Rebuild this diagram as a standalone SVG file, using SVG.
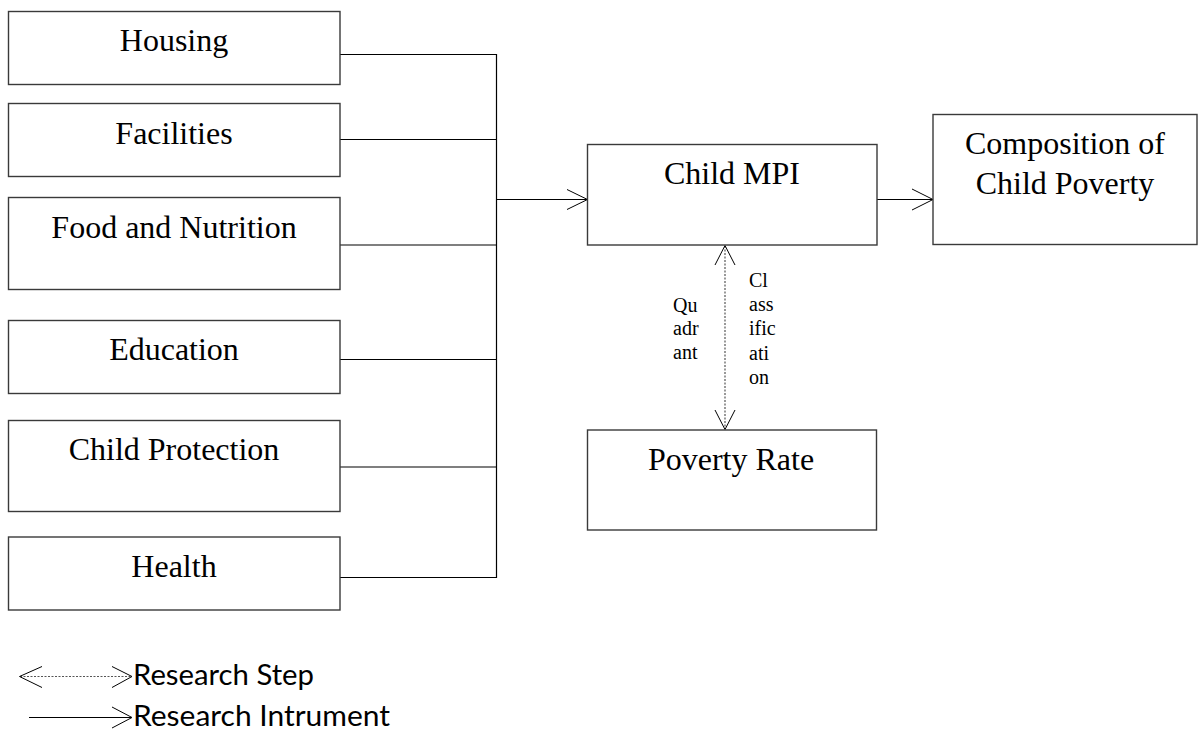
<svg xmlns="http://www.w3.org/2000/svg" width="1199" height="733" viewBox="0 0 1199 733">
<style>
.box{fill:#fff;stroke:#3a3a3a;stroke-width:1.4}
.t{font-family:"Liberation Serif","Times New Roman",serif;font-size:32px;fill:#000;text-anchor:middle}
.s{font-family:"Liberation Serif","Times New Roman",serif;font-size:20px;fill:#000}
.ln{fill:none;stroke:#000;stroke-width:1.2}
.ah{fill:none;stroke:#000;stroke-width:1}
.dash{fill:none;stroke:#555;stroke-width:1.2;stroke-dasharray:2 1.5}
.lg{font-family:Lato,"Open Sans",sans-serif;font-size:29px;fill:#000}
</style>
<rect width="1199" height="733" fill="#fff"/>
<g id="connectors">
<path class="ln" d="M340 54.5H496.5M340 139.5H496.5M340 245H496.5M340 359.5H496.5M340 467H496.5M340 577.5H496.5M496.5 54V578"/>
<path class="ln" d="M496.5 199.5H587"/>
<path class="ah" d="M567 189.5L587.5 199.5L567 209.5"/>
<path class="ln" d="M877 199.5H933"/>
<path class="ah" d="M912 189L933 199.5L912 210"/>
<path class="dash" d="M725 246V429"/>
<path class="ah" d="M715 265L725 245.5L735 265M715 410L725 429.5L735 410"/>
</g>
<g id="n-housing"><rect class="box" x="8.5" y="11.5" width="331.5" height="73"/><text class="t" x="174" y="51">Housing</text></g>
<g id="n-facilities"><rect class="box" x="8.5" y="103.5" width="331.5" height="73"/><text class="t" x="174" y="144">Facilities</text></g>
<g id="n-food"><rect class="box" x="8.5" y="197.5" width="331.5" height="92"/><text class="t" x="174" y="237.5">Food and Nutrition</text></g>
<g id="n-education"><rect class="box" x="8.5" y="320.5" width="331.5" height="73"/><text class="t" x="174" y="360">Education</text></g>
<g id="n-protection"><rect class="box" x="8.5" y="420.5" width="331.5" height="91"/><text class="t" x="174" y="460">Child Protection</text></g>
<g id="n-health"><rect class="box" x="8.5" y="537" width="331.5" height="73"/><text class="t" x="174" y="576.5">Health</text></g>
<g id="n-mpi"><rect class="box" x="587.5" y="144.5" width="289.5" height="100.5"/><text class="t" x="732" y="183.5">Child MPI</text></g>
<g id="n-composition"><rect class="box" x="933" y="114.5" width="264" height="130"/><text class="t" x="1065" y="153.5">Composition of</text><text class="t" x="1065" y="193.5">Child Poverty</text></g>
<g id="n-poverty"><rect class="box" x="587.5" y="430" width="289" height="100"/><text class="t" x="731" y="470">Poverty Rate</text></g>
<g id="label-quadrant"><text class="s" x="673" y="312">Qu</text><text class="s" x="673" y="335">adr</text><text class="s" x="673" y="359">ant</text></g>
<g id="label-classification"><text class="s" x="749" y="287">Cl</text><text class="s" x="749" y="311">ass</text><text class="s" x="749" y="335">ific</text><text class="s" x="749" y="360">ati</text><text class="s" x="749" y="384">on</text></g>
<g id="legend">
<path class="dash" d="M20 676.5H131"/>
<path class="ah" d="M42 666.5L19.5 676.5L42 687.5M112 666.5L132 676.5L112 687.5"/>
<path class="ln" d="M29 717.5H131"/>
<path class="ah" d="M112 707L132 717.5L112 728"/>
<text class="lg" x="133" y="685" textLength="181" lengthAdjust="spacingAndGlyphs">Research Step</text>
<text class="lg" x="133" y="726" textLength="257" lengthAdjust="spacingAndGlyphs">Research Intrument</text>
</g>
</svg>
